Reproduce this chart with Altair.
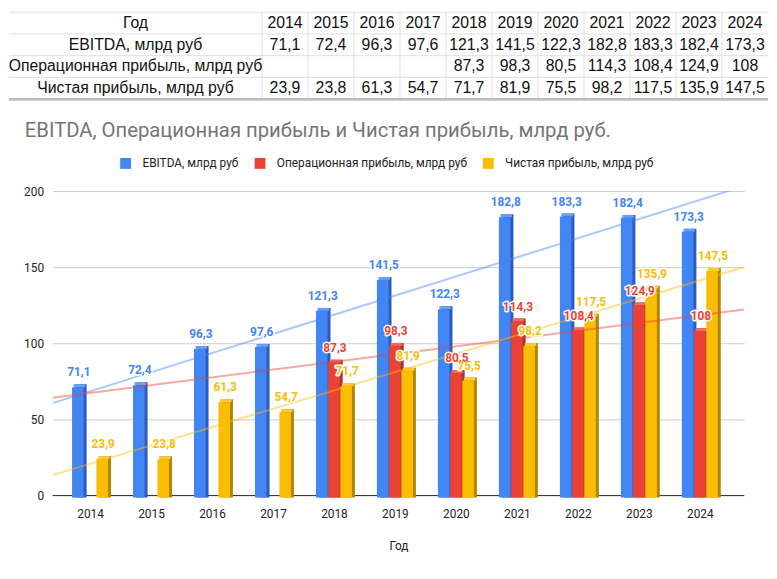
import altair as alt
import pandas as pd

# ---------------- data ----------------
years = [2014, 2015, 2016, 2017, 2018, 2019, 2020, 2021, 2022, 2023, 2024]
ebitda = [71.1, 72.4, 96.3, 97.6, 121.3, 141.5, 122.3, 182.8, 183.3, 182.4, 173.3]
oper = [None, None, None, None, 87.3, 98.3, 80.5, 114.3, 108.4, 124.9, 108]
net = [23.9, 23.8, 61.3, 54.7, 71.7, 81.9, 75.5, 98.2, 117.5, 135.9, 147.5]

series_names = ["EBITDA, млрд руб", "Операционная прибыль, млрд руб", "Чистая прибыль, млрд руб"]
series_values = [ebitda, oper, net]
front_colors = ["#4285f4", "#ea4335", "#fbbc04"]
side_colors = ["#2d5bbd", "#a8342a", "#b08503"]
top_colors = ["#6a9ef6", "#ef6a60", "#fcca3a"]
group_offsets = [-0.2, 0.0, 0.2]
bar_half = 0.095

header_label = "Год"
title_text = "EBITDA, Операционная прибыль и Чистая прибыль, млрд руб."
y_ticks = [0, 50, 100, 150, 200]


def fmt(v):
    if v is None:
        return ""
    if float(v) == int(v):
        return str(int(v))
    return f"{v:.1f}".replace(".", ",")


# ---------------- long tables ----------------
bar_rows = []
for name, vals, fc, sc, tc, off in zip(series_names, series_values, front_colors,
                                        side_colors, top_colors, group_offsets):
    for yr, v in zip(years, vals):
        if v is None:
            continue
        c = yr + off
        bar_rows.append(dict(year=yr, series=name, value=v, center=c,
                             x0=c - bar_half, x1=c + bar_half,
                             front=fc, side=sc, top=tc, label=fmt(v)))
bars_df = pd.DataFrame(bar_rows)

table_rows = [header_label] + series_names
cell_rows = []
for yr in years:
    cell_rows.append(dict(row=header_label, col=str(yr), text=str(yr)))
for name, vals in zip(series_names, series_values):
    for yr, v in zip(years, vals):
        cell_rows.append(dict(row=name, col=str(yr), text=fmt(v)))
cells_df = pd.DataFrame(cell_rows)
rows_df = pd.DataFrame({"row": table_rows})
cols_df = pd.DataFrame({"col": [str(y) for y in years]})

# ---------------- table panel ----------------
TW, TH = 700, 88
tx = alt.Scale(domain=[str(y) for y in years], range=[212, 724], paddingInner=0, paddingOuter=0)
ty = alt.Scale(domain=table_rows, range=[0, TH], paddingInner=0, paddingOuter=0)

t_font = "Liberation Sans"
row_text = alt.Chart(rows_df).mark_text(font=t_font, fontSize=16, color="#111",
                                        align="center", baseline="middle").encode(
    x=alt.value(84),
    y=alt.Y("row:N", scale=ty, axis=None, sort=table_rows),
    text="row:N",
)
cell_text = alt.Chart(cells_df).mark_text(font=t_font, fontSize=16, color="#111",
                                          align="center", baseline="middle").encode(
    x=alt.X("col:N", scale=tx, axis=None, sort=None),
    y=alt.Y("row:N", scale=ty, axis=None, sort=table_rows),
    text="text:N",
)
vlines = alt.Chart(cols_df).mark_rule(color="#e0e0e0", strokeWidth=1).encode(
    x=alt.X("col:N", scale=tx, axis=None, sort=None, bandPosition=0),
    y=alt.value(0),
    y2=alt.value(TH),
)
hlines = alt.Chart(rows_df).mark_rule(color="#e0e0e0", strokeWidth=1).encode(
    y=alt.Y("row:N", scale=ty, axis=None, sort=table_rows, bandPosition=0),
    x=alt.value(-44),
    x2=alt.value(724),
)
bottom_line = alt.Chart(rows_df).mark_rule(color="#bdbdbd", strokeWidth=2).encode(
    y=alt.value(TH),
    x=alt.value(-44),
    x2=alt.value(724),
)
table = alt.layer(hlines, vlines, bottom_line, row_text, cell_text).properties(width=TW, height=TH)

# ---------------- main chart ----------------
W, H = 700, 308
x_dom = [2013.384, 2024.729]
xs = alt.Scale(domain=x_dom, nice=False, zero=False)
ys = alt.Scale(domain=[0, 200], nice=False)
c_font = "Roboto"

x_axis = alt.Axis(values=years, format="d", tickSize=0, domain=False, grid=False,
                  labelFontSize=12, labelColor="#222", labelPadding=13, labelFont=c_font,
                  title="Год", titleFontSize=12, titleFontWeight="normal", titleColor="#222",
                  titleFont=c_font, titlePadding=22)
y_axis = alt.Axis(values=y_ticks, tickSize=0, domain=False, grid=True, gridColor="#cccccc",
                  labelFontSize=12, labelColor="#222", labelPadding=9, labelFont=c_font,
                  title=None)


def X(f):
    return alt.X(f, scale=xs, axis=x_axis)


def Y(f):
    return alt.Y(f, scale=ys, axis=y_axis)


color_scale = alt.Scale(domain=series_names, range=front_colors)
# the legend is laid out at the top level of the concatenation (origin = table origin)
legend = alt.Legend(title=None, orient="none", legendX=68, legendY=147, direction="horizontal",
                    symbolType="square", symbolSize=121, symbolStrokeWidth=0,
                    labelFontSize=12, labelFont=c_font, labelColor="#222", labelLimit=400,
                    columnPadding=15, labelOffset=11, padding=0)

base = alt.Chart(bars_df)

baseline = alt.Chart(pd.DataFrame({"v": [0]})).mark_rule(color="#333333", strokeWidth=1).encode(
    y=Y("v:Q"))

side = base.mark_bar(xOffset=3, x2Offset=3, yOffset=-3, y2Offset=2).encode(
    x=X("x0:Q"), x2="x1:Q", y=Y("value:Q"), y2=alt.datum(0),
    fill=alt.Fill("side:N", scale=None))

topf = base.mark_bar(xOffset=1.5, x2Offset=1.5, yOffset=-3).encode(
    x=X("x0:Q"), x2="x1:Q", y=Y("value:Q"), y2="value:Q",
    fill=alt.Fill("top:N", scale=None))

front = base.mark_bar(y2Offset=2).encode(
    x=X("x0:Q"), x2="x1:Q", y=Y("value:Q"), y2=alt.datum(0),
    color=alt.Color("series:N", scale=color_scale, legend=legend, sort=series_names))

trends = []
for name, fc in zip(series_names, front_colors):
    trends.append(
        base.transform_filter(alt.datum.series == name)
        .transform_regression("year", "value", extent=x_dom)
        .mark_line(clip=True, strokeWidth=2, color=fc, opacity=0.45)
        .encode(x=X("year:Q"), y=Y("value:Q"))
    )

halo = base.mark_text(font=c_font, fontSize=12, fontWeight="bold", dy=-15, dx=1,
                      stroke="white", strokeWidth=3, strokeJoin="round", fill="white").encode(
    x=X("center:Q"), y=Y("value:Q"), text="label:N")
labels = base.mark_text(font=c_font, fontSize=12, fontWeight="bold", dy=-15, dx=1).encode(
    x=X("center:Q"), y=Y("value:Q"), text="label:N",
    fill=alt.Fill("front:N", scale=None))

main = alt.layer(baseline, side, topf, front, *trends, halo, labels).properties(
    width=W, height=H,
    title=alt.TitleParams(title_text, anchor="start", frame="group", dx=-28, offset=44,
                          fontSize=20.5, font=c_font, fontWeight="normal", color="#757575"),
)

chart = alt.vconcat(table, main, spacing=21).properties(
    padding=0, background="white"
).configure_view(stroke=None)

chart.save("out.html", embed_options={"renderer": "svg", "actions": False})
